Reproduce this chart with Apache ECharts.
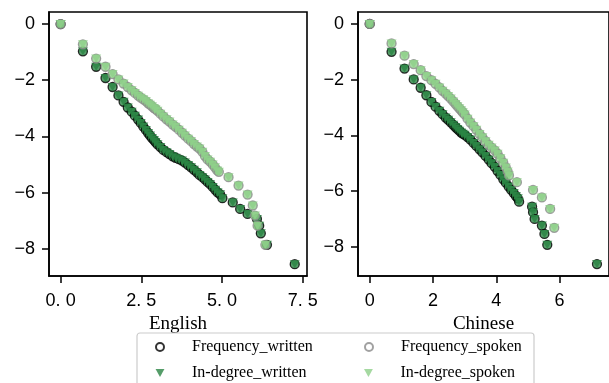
<!DOCTYPE html>
<html>
<head>
<meta charset="utf-8">
<script src="https://cdn.jsdelivr.net/npm/echarts@6/dist/echarts.min.js"></script>
<style>
  html, body { margin: 0; padding: 0; background: #fff; }
  #chart { width: 609px; height: 383px; }
</style>
</head>
<body>
<div id="chart"></div>
<script>
"use strict";

// [ln k, ln P] pairs.
// Frequency and in-degree points sit on top of each other in the reference,
// so each language/mode pair feeds both of its series.
const enWritten = [
  [0, 0], [0.69, -0.97], [1.10, -1.52], [1.39, -1.92], [1.61, -2.24], [1.79, -2.54],
  [1.95, -2.77], [2.08, -2.97], [2.20, -3.12], [2.30, -3.26], [2.40, -3.40], [2.48, -3.52],
  [2.56, -3.65], [2.64, -3.77], [2.71, -3.88], [2.77, -3.97], [2.83, -4.06], [2.89, -4.13],
  [2.94, -4.20], [3.00, -4.28], [3.09, -4.38], [3.18, -4.48], [3.28, -4.56], [3.37, -4.63],
  [3.47, -4.71], [3.56, -4.76], [3.66, -4.81], [3.76, -4.86], [3.85, -4.93], [3.95, -5.02],
  [4.04, -5.10], [4.13, -5.19], [4.22, -5.28], [4.30, -5.37], [4.39, -5.45], [4.47, -5.53],
  [4.55, -5.62], [4.63, -5.70], [4.71, -5.80], [4.79, -5.90], [4.86, -5.99], [4.94, -6.06],
  [5.01, -6.20], [5.33, -6.35], [5.56, -6.58], [5.79, -6.76], [6.08, -6.94], [6.15, -7.18],
  [6.20, -7.45], [6.39, -7.86], [7.25, -8.55]
];
const enSpoken = [
  [0, 0], [0.69, -0.72], [1.10, -1.23], [1.39, -1.52], [1.61, -1.78], [1.79, -1.97],
  [1.95, -2.12], [2.08, -2.24], [2.20, -2.36], [2.30, -2.45], [2.40, -2.55], [2.48, -2.62],
  [2.56, -2.68], [2.64, -2.74], [2.71, -2.82], [2.77, -2.87], [2.83, -2.93], [2.89, -2.99],
  [2.94, -3.03], [3.00, -3.09], [3.09, -3.19], [3.18, -3.29], [3.28, -3.39], [3.37, -3.47],
  [3.47, -3.58], [3.56, -3.66], [3.66, -3.76], [3.76, -3.87], [3.85, -3.97], [3.95, -4.08],
  [4.04, -4.17], [4.13, -4.27], [4.22, -4.36], [4.30, -4.43], [4.39, -4.55], [4.47, -4.70],
  [4.55, -4.82], [4.63, -4.90], [4.71, -5.00], [4.78, -5.10], [4.85, -5.21], [4.90, -5.26],
  [5.20, -5.45], [5.51, -5.75], [5.79, -6.07], [5.95, -6.46], [6.02, -6.82], [6.10, -7.18],
  [6.34, -7.86]
];
const zhWritten = [
  [0, 0], [0.69, -1.00], [1.10, -1.60], [1.39, -1.99], [1.61, -2.29], [1.79, -2.56],
  [1.95, -2.80], [2.08, -2.97], [2.20, -3.12], [2.30, -3.24], [2.40, -3.36], [2.48, -3.44],
  [2.56, -3.53], [2.64, -3.62], [2.71, -3.70], [2.77, -3.77], [2.83, -3.83], [2.89, -3.90],
  [2.94, -3.94], [3.00, -3.98], [3.09, -4.06], [3.18, -4.15], [3.28, -4.27], [3.37, -4.38],
  [3.47, -4.50], [3.56, -4.61], [3.66, -4.74], [3.76, -4.87], [3.85, -5.00], [3.95, -5.13],
  [4.04, -5.28], [4.13, -5.42], [4.22, -5.58], [4.30, -5.70], [4.39, -5.84], [4.47, -5.96],
  [4.55, -6.07], [4.62, -6.18], [4.68, -6.26], [4.72, -6.38], [5.13, -6.56], [5.16, -6.76],
  [5.21, -7.00], [5.44, -7.24], [5.52, -7.54], [5.61, -7.93], [7.18, -8.62]
];
const zhSpoken = [
  [0, 0], [0.69, -0.70], [1.10, -1.14], [1.39, -1.44], [1.61, -1.66], [1.79, -1.87],
  [1.95, -2.02], [2.08, -2.15], [2.20, -2.28], [2.30, -2.40], [2.40, -2.50], [2.48, -2.59],
  [2.56, -2.68], [2.64, -2.78], [2.71, -2.87], [2.77, -2.95], [2.83, -3.03], [2.89, -3.10],
  [2.94, -3.17], [3.00, -3.25], [3.09, -3.40], [3.18, -3.54], [3.28, -3.67], [3.37, -3.80],
  [3.47, -3.95], [3.56, -4.07], [3.66, -4.21], [3.76, -4.34], [3.85, -4.44], [3.95, -4.54],
  [4.04, -4.66], [4.13, -4.82], [4.22, -4.98], [4.30, -5.15], [4.36, -5.30], [4.40, -5.44],
  [4.65, -5.68], [5.16, -5.96], [5.44, -6.23], [5.70, -6.64], [5.83, -7.32]
];

const panelNames = ["English", "Chinese"];
const xTicks = [[0, 2.5, 5, 7.5], [0, 2, 4, 6]];
const yTicks = [0, -2, -4, -6, -8];

const DARK = "#2a8444";
const LIGHT = "#8fd08a";
const TRI = "path://M0,0L10,0L5,9Z";

const chart = echarts.init(document.getElementById("chart"), null, { renderer: "canvas" });

function xAxisFor(i, min, max, fmt) {
  return {
    type: "value",
    gridIndex: i,
    min: min,
    max: max,
    name: panelNames[i],
    nameLocation: "middle",
    nameGap: 33,
    nameTextStyle: { fontFamily: "Liberation Serif", fontSize: 19, color: "#000" },
    axisLine: { show: true, onZero: false, lineStyle: { color: "#000", width: 1.6 } },
    axisTick: { show: true, length: 7, customValues: xTicks[i], lineStyle: { color: "#000", width: 1.5 } },
    axisLabel: {
      customValues: xTicks[i],
      margin: 16,
      color: "#000",
      fontFamily: "Liberation Sans",
      fontSize: 18,
      formatter: fmt
    },
    splitLine: { show: false }
  };
}

function yAxisFor(i, min) {
  return {
    type: "value",
    gridIndex: i,
    min: min,
    max: 0.43,
    axisLine: { show: true, onZero: false, lineStyle: { color: "#000", width: 1.6 } },
    axisTick: { show: true, length: 7, customValues: yTicks, lineStyle: { color: "#000", width: 1.5 } },
    axisLabel: {
      customValues: yTicks,
      margin: 14,
      color: "#000",
      fontFamily: "Liberation Sans",
      fontSize: 18,
      formatter: v => (v < 0 ? "\u2212" + (-v) : String(v))
    },
    splitLine: { show: false }
  };
}

function seriesFor(i, written, spoken) {
  return [
    {
      name: "Frequency_written", type: "scatter", xAxisIndex: i, yAxisIndex: i,
      symbol: "circle", symbolSize: 9, data: written, z: 2,
      itemStyle: { color: DARK, borderColor: "#000", borderWidth: 1.3 }
    },
    {
      name: "In-degree_written", type: "scatter", xAxisIndex: i, yAxisIndex: i,
      symbol: TRI, symbolSize: [10, 8], data: written, z: 3,
      itemStyle: { color: DARK }
    },
    {
      name: "Frequency_spoken", type: "scatter", xAxisIndex: i, yAxisIndex: i,
      symbol: "circle", symbolSize: 9, data: spoken, z: 4,
      itemStyle: { color: LIGHT, borderColor: "#8a8a8a", borderWidth: 1.3 }
    },
    {
      name: "In-degree_spoken", type: "scatter", xAxisIndex: i, yAxisIndex: i,
      symbol: TRI, symbolSize: [10, 8], data: spoken, z: 5,
      itemStyle: { color: LIGHT }
    }
  ];
}

const option = {
  animation: false,
  backgroundColor: "#fff",
  grid: [
    { left: 49, top: 12, width: 258, height: 264, show: true, borderColor: "#000", borderWidth: 1.6 },
    { left: 358, top: 12, width: 258, height: 264, show: true, borderColor: "#000", borderWidth: 1.6 }
  ],
  xAxis: [
    xAxisFor(0, -0.36, 7.63, v => v.toFixed(1).replace(".", ". ")),
    xAxisFor(1, -0.37, 7.56, v => String(v))
  ],
  yAxis: [yAxisFor(0, -8.97), yAxisFor(1, -9.05)],
  legend: {
    left: 137,
    top: 333,
    width: 382,
    orient: "horizontal",
    itemWidth: 10,
    itemHeight: 8,
    itemGap: 10,
    padding: [6, 0, 6, 18],
    borderColor: "#cccccc",
    borderWidth: 1.2,
    borderRadius: 3,
    backgroundColor: "#fff",
    textStyle: {
      fontFamily: "Liberation Serif",
      fontSize: 16,
      color: "#000",
      width: 162,
      lineHeight: 12,
      padding: [0, 0, 0, 22]
    },
    data: [
      { name: "Frequency_written", itemStyle: { color: "#fff", borderColor: "#000", borderWidth: 2 } },
      { name: "Frequency_spoken", itemStyle: { color: "#fff", borderColor: "#8a8a8a", borderWidth: 2 }, textStyle: { width: 133 } },
      { name: "In-degree_written" },
      { name: "In-degree_spoken", textStyle: { width: 133 } }
    ]
  },
  series: [].concat(seriesFor(0, enWritten, enSpoken), seriesFor(1, zhWritten, zhSpoken))
};

chart.setOption(option);
</script>
</body>
</html>
